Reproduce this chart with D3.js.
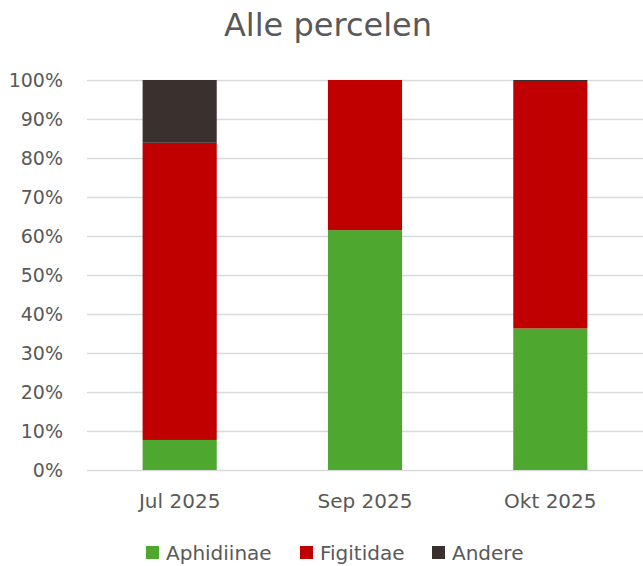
<!DOCTYPE html>
<html>
<head>
<meta charset="utf-8">
<script src="https://cdn.jsdelivr.net/npm/d3@7"></script>
<style>
  body { margin: 0; background: #fff; }
  svg text { font-family: "DejaVu Sans", sans-serif; fill: #595959; }
</style>
</head>
<body>
<svg id="chart" width="643" height="566"></svg>
<script>
const months = ["Jul 2025", "Sep 2025", "Okt 2025"];
const seriesNames = ["Aphidiinae", "Figitidae", "Andere"];
const aphidiinae = [0.077, 0.615, 0.363];
const figitidae = [0.762, 0.385, 0.632];
const andere = [0.161, 0, 0.005];
const yTicks = [0, 0.1, 0.2, 0.3, 0.4, 0.5, 0.6, 0.7, 0.8, 0.9, 1];
const colors = ["#4EA72E", "#C00000", "#3A302E"];

const svg = d3.select("#chart");
const margin = { top: 80, right: 0, bottom: 96, left: 87 };
const W = 643, H = 566;

const rows = months.map((m, i) => ({
    month: m,
    Aphidiinae: aphidiinae[i],
    Figitidae: figitidae[i],
    Andere: andere[i]
}));

const x = d3.scaleBand()
    .domain(months)
    .range([margin.left, W - margin.right])
    .paddingInner(0.6)
    .paddingOuter(0.3);

const y = d3.scaleLinear()
    .domain([0, 1])
    .range([H - margin.bottom, margin.top]);

// title
svg.append("text")
    .attr("x", 328)
    .attr("y", 36)
    .attr("text-anchor", "middle")
    .style("font-size", "32px")
    .text("Alle percelen");

// gridlines
svg.append("g")
    .selectAll("line")
    .data(yTicks)
    .enter()
    .append("line")
    .attr("x1", margin.left)
    .attr("x2", W - margin.right)
    .attr("y1", d => Math.round(y(d)) + 0.5)
    .attr("y2", d => Math.round(y(d)) + 0.5)
    .attr("stroke", "#D9D9D9")
    .attr("stroke-width", 1.3);

// y labels
svg.append("g")
    .selectAll("text")
    .data(yTicks)
    .enter()
    .append("text")
    .attr("x", 63)
    .attr("y", d => y(d) + 7)
    .attr("text-anchor", "end")
    .style("font-size", "19px")
    .text(d => d3.format(".0%")(d));

// stacked bars
const stacked = d3.stack().keys(seriesNames)(rows);

svg.append("g")
    .selectAll("g")
    .data(stacked)
    .enter()
    .append("g")
    .attr("fill", (d, i) => colors[i])
    .selectAll("rect")
    .data(d => d)
    .enter()
    .append("rect")
    .attr("x", d => x(d.data.month))
    .attr("width", x.bandwidth())
    .attr("y", d => y(d[1]))
    .attr("height", d => y(d[0]) - y(d[1]));

// x labels
svg.append("g")
    .selectAll("text")
    .data(months)
    .enter()
    .append("text")
    .attr("x", d => x(d) + x.bandwidth() / 2)
    .attr("y", 508)
    .attr("text-anchor", "middle")
    .style("font-size", "20px")
    .text(d => d);

// legend
const legendX = [146, 300, 432];
const legend = svg.append("g")
    .selectAll("g")
    .data(seriesNames)
    .enter()
    .append("g")
    .attr("transform", (d, i) => `translate(${legendX[i]},546)`);

legend.append("rect")
    .attr("width", 13)
    .attr("height", 13)
    .attr("fill", (d, i) => colors[i]);

legend.append("text")
    .attr("x", 20)
    .attr("y", 14)
    .style("font-size", "20px")
    .text(d => d);
</script>
</body>
</html>
